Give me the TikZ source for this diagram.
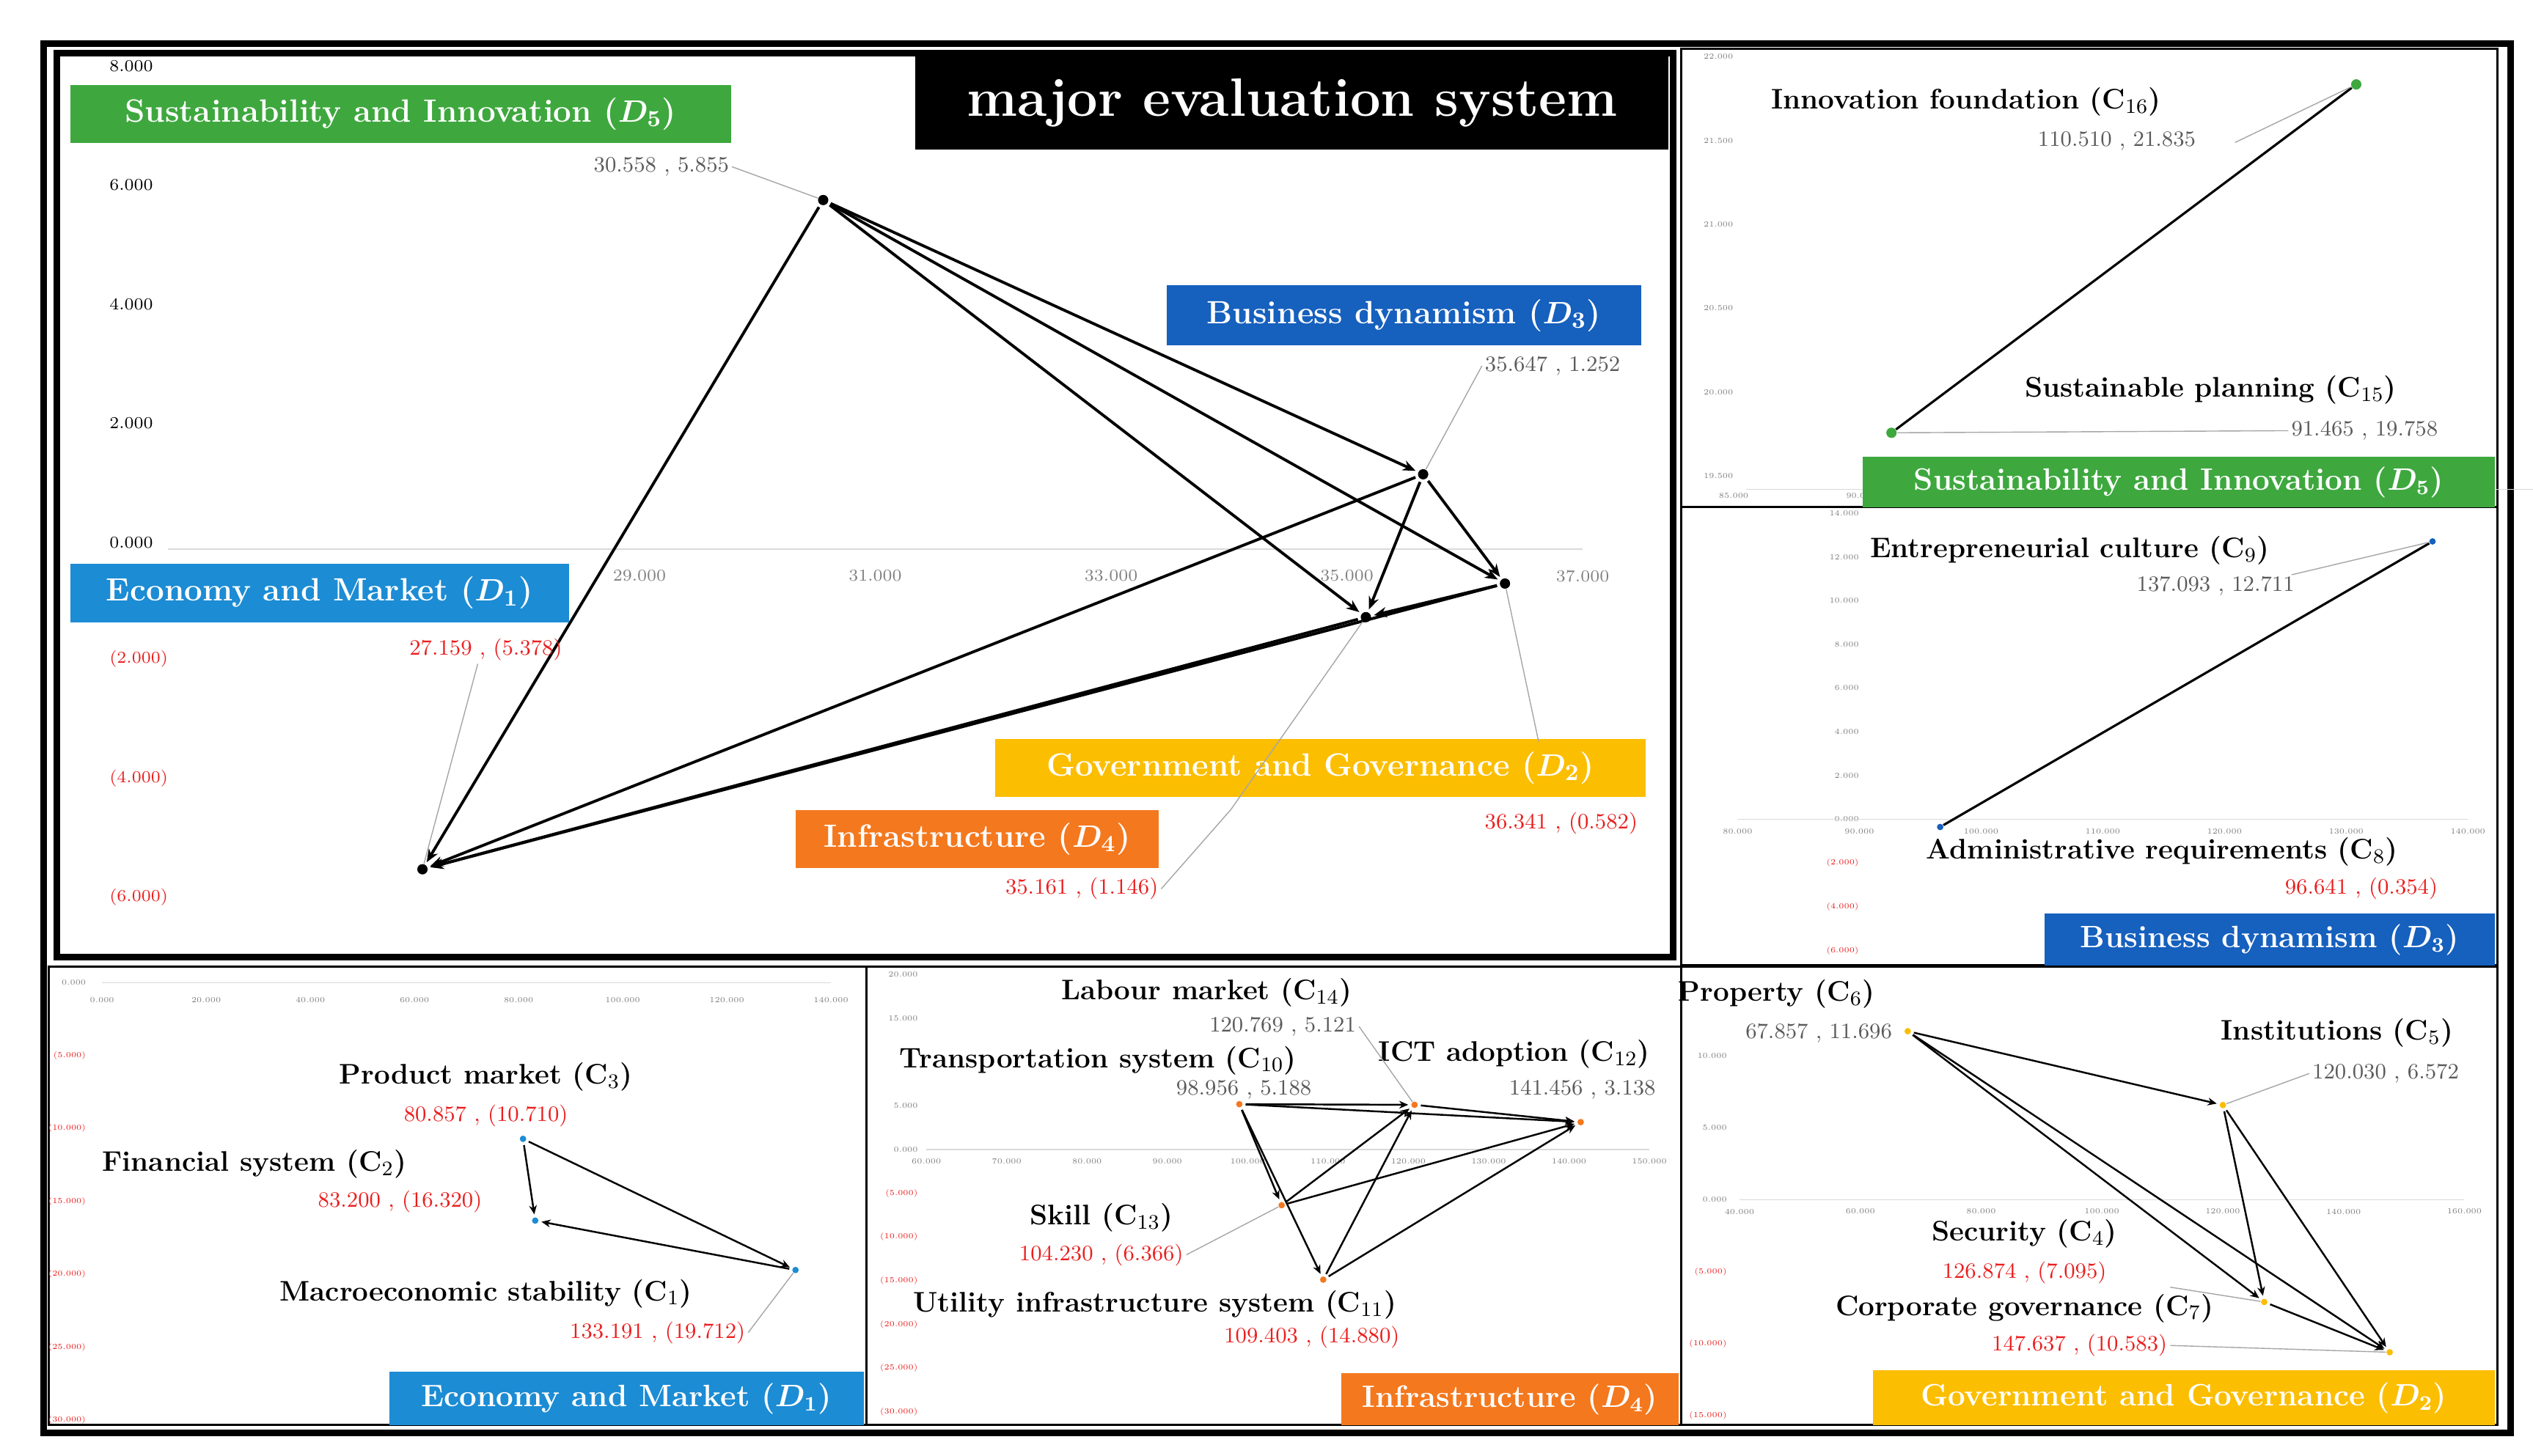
\documentclass[tikz,border=0pt]{standalone}
\usepackage{amsmath,amssymb}
\usepackage{tikz}
\usetikzlibrary{calc,arrows.meta}
\definecolor{dgreen}{RGB}{62,168,62}
\definecolor{dblue}{RGB}{22,96,190}
\definecolor{lblue}{RGB}{28,140,212}
\definecolor{dgold}{RGB}{252,190,0}
\definecolor{dorange}{RGB}{244,120,30}
\definecolor{vgray}{RGB}{90,90,90}
\definecolor{vred}{RGB}{235,30,30}
\tikzset{
    dlabel/.style={fill=#1, text=white, font=\bfseries\fontsize{12.5}{15}\selectfont, inner sep=1pt, anchor=north west},
    clabel/.style={font=\bfseries\fontsize{11}{13}\selectfont, inner sep=1pt},
    gval/.style={text=vgray, font=\fontsize{8.5}{10}\selectfont, inner sep=1pt},
    rval/.style={text=vred, font=\fontsize{8.5}{10}\selectfont, inner sep=1pt},
    lead/.style={gray!70, line width=0.4pt},
    dot/.style={circle, fill=#1, inner sep=0pt, minimum size=4pt},
    arr/.style={-{Stealth[length=5pt,width=4pt]}, line width=1.1pt, shorten >=1pt, shorten <=1pt},
    sarr/.style={-{Stealth[length=3.5pt,width=3pt]}, line width=0.7pt, shorten >=1pt, shorten <=1pt},
    tick/.style={font=\fontsize{6.5}{7}\selectfont, inner sep=0pt},
    stick/.style={font=\fontsize{3}{3.5}\selectfont, inner sep=0pt, text=gray},
    panel/.style={draw=black, line width=0.8pt}
}
\begin{document}
\begin{tikzpicture}[x=0.22085mm,y=-0.22085mm]
    \useasboundingbox (0,0) rectangle (1564,899);
    \fill[white] (0,0) rectangle (1564,899);

    % frames
    \draw[line width=2.5pt] (27,27) rectangle (1550,885);
    \draw[panel] (1038,30) rectangle (1542,313);
    \draw[panel] (1038,313) rectangle (1542,596);
    \draw[panel] (30,597) rectangle (535,880);
    \draw[panel] (535,597) rectangle (1038,880);
    \draw[panel] (1038,597) rectangle (1542,880);
    \draw[line width=2.5pt] (35,33) rectangle (1033,591);

    % main panel
    \node[fill=black, text=white, font=\bfseries\fontsize{21}{24}\selectfont, minimum width=465*0.22085mm, minimum height=58*0.22085mm, anchor=north west] (title) at (565,34) {major evaluation system};

    \begin{scope}[shift={(-1716.2,339)}, x=16.077mm, y=8.127mm]
        \draw[gray!30, line width=0.5pt] (25,0) -- (37,0);
        \foreach \v/\t in {8/8.000,6/6.000,4/4.000,2/2.000,0/0.000}
            \node[tick, anchor=south west] at (24.5,\v) {\t};
        \foreach \v/\t in {-2/(2.000),-4/(4.000),-6/(6.000)}
            \node[tick, anchor=south west, text=vred] at (24.5,\v) {\t};
        \foreach \v in {29,31,33,35,37}
            \node[tick, anchor=north, text=gray] at (\v,-0.35) {\v.000};
        \node[dot=black] (d5) at (30.558,5.855) {};
        \node[dot=black] (d3) at (35.647,1.252) {};
        \node[dot=black] (d2) at (36.341,-0.582) {};
        \node[dot=black] (d4) at (35.161,-1.146) {};
        \node[dot=black] (d1) at (27.159,-5.378) {};
    \end{scope}
    \foreach \a/\b in {d5/d1,d5/d3,d5/d2,d5/d4,d3/d2,d3/d4,d3/d1,d2/d4,d2/d1,d4/d1}
        \draw[arr] (\a) -- (\b);

    \node[dlabel=dgreen, minimum width=408*0.22085mm, minimum height=36*0.22085mm] (lsi) at (43,52) {Sustainability and Innovation ($\boldsymbol{D_5}$)};
    \node[dlabel=dblue, minimum width=293*0.22085mm, minimum height=37*0.22085mm] (lbd) at (720,176) {Business dynamism ($\boldsymbol{D_3}$)};
    \node[dlabel=lblue, minimum width=308*0.22085mm, minimum height=36*0.22085mm] (lem) at (43,348) {Economy and Market ($\boldsymbol{D_1}$)};
    \node[dlabel=dgold, minimum width=402*0.22085mm, minimum height=36*0.22085mm] (lgg) at (614,456) {Government and Governance ($\boldsymbol{D_2}$)};
    \node[dlabel=dorange, minimum width=224*0.22085mm, minimum height=36*0.22085mm] (lin) at (491,500) {Infrastructure ($\boldsymbol{D_4}$)};

    \node[gval, anchor=east] (v5) at (452,103) {30.558 , 5.855};
    \node[gval, anchor=west] (v3) at (915,226) {35.647 , 1.252};
    \node[rval, anchor=north east] (v2) at (1013,500) {36.341 , (0.582)};
    \node[rval, anchor=east] (v4) at (717,549) {35.161 , (1.146)};
    \node[rval, anchor=east] (v1) at (349,401) {27.159 , (5.378)};
    \draw[lead] (v5.east) -- (d5);
    \draw[lead] (v3.west) -- (d3);
    \draw[lead] (950,458) -- (d2);
    \draw[lead] (v4.east) -- (760,500) -- (d4);
    \draw[lead] (295,410) -- (d1);

    % top right: D5
    \begin{scope}[shift={(-210.4,2314.2)}, x=3.328mm, y=22.88mm]
        \foreach \v in {19.5,20.0,20.5,21.0,21.5,22.0}
            \node[stick, anchor=east] at (85,\v) {\v00};
        \draw[gray!30] (85.5,19.42) -- (125,19.42);
        \node[stick, anchor=north] at (85,19.4) {85.000};
        \node[stick, anchor=north] at (90,19.4) {90.0};
        \node[dot=dgreen] (c15) at (91.465,19.758) {};
        \node[dot=dgreen] (c16) at (110.510,21.835) {};
    \end{scope}
    \draw[line width=0.9pt] (c15) -- (c16);
    \node[clabel] (lc16) at (1214,63) {Innovation foundation (C$_{16}$)};
    \node[gval] (vc16) at (1307,87) {110.510 , 21.835};
    \node[clabel] (lc15) at (1365,241) {Sustainable planning (C$_{15}$)};
    \node[gval] (vc15) at (1460,266) {91.465 , 19.758};
    \draw[lead] (1380,88) -- (c16);
    \draw[lead] (vc15.west) -- (c15);
    \node[dlabel=dgreen, font=\bfseries\fontsize{12}{14}\selectfont, minimum width=390*0.22085mm, minimum height=31*0.22085mm] (lsi2) at (1150,282) {Sustainability and Innovation ($\boldsymbol{D_5}$)};

    % mid right: D3
    \begin{scope}[shift={(471.7,506)}, x=1.6597mm, y=2.9815mm]
        \foreach \v in {0,2,...,14}
            \node[stick, anchor=east] at (90,\v) {\v.000};
        \foreach \v in {2,4,6}
            \node[stick, anchor=east, text=vred] at (90,-\v) {(\v.000)};
        \draw[gray!30] (80,0) -- (140,0);
        \foreach \v in {80,90,100,110,120,130,140}
            \node[stick, anchor=north] at (\v,-0.4) {\v.000};
        \node[dot=dblue, minimum size=2.5pt] (c8) at (96.641,-0.354) {};
        \node[dot=dblue, minimum size=2.5pt] (c9) at (137.093,12.711) {};
    \end{scope}
    \draw[line width=0.9pt] (c8) -- (c9);
    \node[clabel] (lc9) at (1278,340) {Entrepreneurial culture (C$_{9}$)};
    \node[gval] (vc9) at (1368,362) {137.093 , 12.711};
    \node[clabel] (lc8) at (1335,526) {Administrative requirements (C$_{8}$)};
    \node[rval] (vc8) at (1458,549) {96.641 , (0.354)};
    \draw[lead] (1415,355) -- (c9);
    \node[dlabel=dblue, font=\bfseries\fontsize{12}{14}\selectfont, minimum width=278*0.22085mm, minimum height=32*0.22085mm] (lbd2) at (1262,564) {Business dynamism ($\boldsymbol{D_3}$)};

    % bottom left: D1
    \begin{scope}[shift={(63,607)}, x=0.71mm, y=1.9877mm]
        \draw[gray!30] (0,0) -- (140,0);
        \node[stick, anchor=east] at (-3,0) {0.000};
        \foreach \v in {5,10,15,20,25,30}
            \node[stick, anchor=east, text=vred] at (-3,-\v) {(\v.000)};
        \foreach \v in {0,20,40,60,80,100,120,140}
            \node[stick, anchor=south] at (\v,-1.4) {\v.000};
        \node[dot=lblue, minimum size=2.5pt] (c3) at (80.857,-10.710) {};
        \node[dot=lblue, minimum size=2.5pt] (c2) at (83.200,-16.320) {};
        \node[dot=lblue, minimum size=2.5pt] (c1) at (133.191,-19.712) {};
    \end{scope}
    \draw[sarr] (c3) -- (c2);
    \draw[sarr] (c3) -- (c1);
    \draw[sarr] (c1) -- (c2);
    \node[clabel] (lc3) at (300,665) {Product market (C$_{3}$)};
    \node[rval] (vc3) at (300,689) {80.857 , (10.710)};
    \node[clabel] (lc2) at (157,719) {Financial system (C$_{2}$)};
    \node[rval] (vc2) at (247,742) {83.200 , (16.320)};
    \node[clabel] (lc1) at (300,799) {Macroeconomic stability (C$_{1}$)};
    \node[rval] (vc1) at (406,823) {133.191 , (19.712)};
    \draw[lead] (vc1.east) -- (c1);
    \node[dlabel=lblue, font=\bfseries\fontsize{12}{14}\selectfont, minimum width=293*0.22085mm, minimum height=33*0.22085mm] (lem2) at (240,847) {Economy and Market ($\boldsymbol{D_1}$)};

    % bottom middle: D4
    \begin{scope}[shift={(274.4,710)}, x=1.0954mm, y=1.1926mm]
        \draw[gray!30] (60,0) -- (150,0);
        \foreach \v in {0,5,15,20}
            \node[stick, anchor=east] at (59,\v) {\v.000};
        \foreach \v in {5,10,15,20,25,30}
            \node[stick, anchor=east, text=vred] at (59,-\v) {(\v.000)};
        \foreach \v in {60,70,...,150}
            \node[stick, anchor=north] at (\v,-1) {\v.000};
        \node[dot=dorange, minimum size=2.5pt] (c10) at (98.956,5.188) {};
        \node[dot=dorange, minimum size=2.5pt] (c14) at (120.769,5.121) {};
        \node[dot=dorange, minimum size=2.5pt] (c12) at (141.456,3.138) {};
        \node[dot=dorange, minimum size=2.5pt] (c13) at (104.230,-6.366) {};
        \node[dot=dorange, minimum size=2.5pt] (c11) at (109.403,-14.880) {};
    \end{scope}
    \foreach \a/\b in {c10/c14,c10/c12,c14/c12,c10/c13,c10/c11,c13/c14,c11/c14,c13/c12,c11/c12}
        \draw[sarr] (\a) -- (\b);
    \node[clabel] (lc14) at (745,613) {Labour market (C$_{14}$)};
    \node[gval] (vc14) at (792,634) {120.769 , 5.121};
    \node[clabel] (lc10) at (678,655) {Transportation system (C$_{10}$)};
    \node[gval] (vc10) at (768,673) {98.956 , 5.188};
    \node[clabel] (lc12) at (935,651) {ICT adoption (C$_{12}$)};
    \node[gval] (vc12) at (977,673) {141.456 , 3.138};
    \node[clabel] (lc13) at (680,752) {Skill (C$_{13}$)};
    \node[rval] (vc13) at (680,775) {104.230 , (6.366)};
    \node[clabel] (lc11) at (713,806) {Utility infrastructure system (C$_{11}$)};
    \node[rval] (vc11) at (810,826) {109.403 , (14.880)};
    \draw[lead] (vc14.east) -- (c14);
    \draw[lead] (vc13.east) -- (c13);
    \node[dlabel=dorange, font=\bfseries\fontsize{12}{14}\selectfont, minimum width=208*0.22085mm, minimum height=32*0.22085mm] (lin2) at (828,848) {Infrastructure ($\boldsymbol{D_4}$)};

    % bottom right: D2
    \begin{scope}[shift={(924.8,741)}, x=0.8238mm, y=1.9656mm]
        \draw[gray!30] (40,0) -- (160,0);
        \foreach \v in {0,5,10}
            \node[stick, anchor=east] at (38,\v) {\v.000};
        \foreach \v in {5,10,15}
            \node[stick, anchor=east, text=vred] at (38,-\v) {(\v.000)};
        \foreach \v in {40,60,...,160}
            \node[stick, anchor=north] at (\v,-0.6) {\v.000};
        \node[dot=dgold, minimum size=2.5pt] (c6) at (67.857,11.696) {};
        \node[dot=dgold, minimum size=2.5pt] (c5) at (120.030,6.572) {};
        \node[dot=dgold, minimum size=2.5pt] (c4) at (126.874,-7.095) {};
        \node[dot=dgold, minimum size=2.5pt] (c7) at (147.637,-10.583) {};
    \end{scope}
    \foreach \a/\b in {c6/c5,c6/c4,c6/c7,c5/c4,c5/c7,c4/c7}
        \draw[sarr] (\a) -- (\b);
    \node[clabel] (lc6) at (1097,614) {Property (C$_{6}$)};
    \node[gval] (vc6) at (1123,638) {67.857 , 11.696};
    \node[clabel] (lc5) at (1443,638) {Institutions (C$_{5}$)};
    \node[gval] (vc5) at (1473,663) {120.030 , 6.572};
    \node[clabel] (lc4) at (1250,762) {Security (C$_{4}$)};
    \node[rval] (vc4) at (1250,786) {126.874 , (7.095)};
    \node[clabel] (lc7) at (1250,808) {Corporate governance (C$_{7}$)};
    \node[rval] (vc7) at (1284,831) {147.637 , (10.583)};
    \draw[lead] (vc5.west) -- (c5);
    \draw[lead] (1340,795) -- (c4);
    \draw[lead] (vc7.east) -- (c7);
    \node[dlabel=dgold, font=\bfseries\fontsize{12}{14}\selectfont, minimum width=384*0.22085mm, minimum height=34*0.22085mm] (lgg2) at (1156,846) {Government and Governance ($\boldsymbol{D_2}$)};
\end{tikzpicture}
\end{document}
